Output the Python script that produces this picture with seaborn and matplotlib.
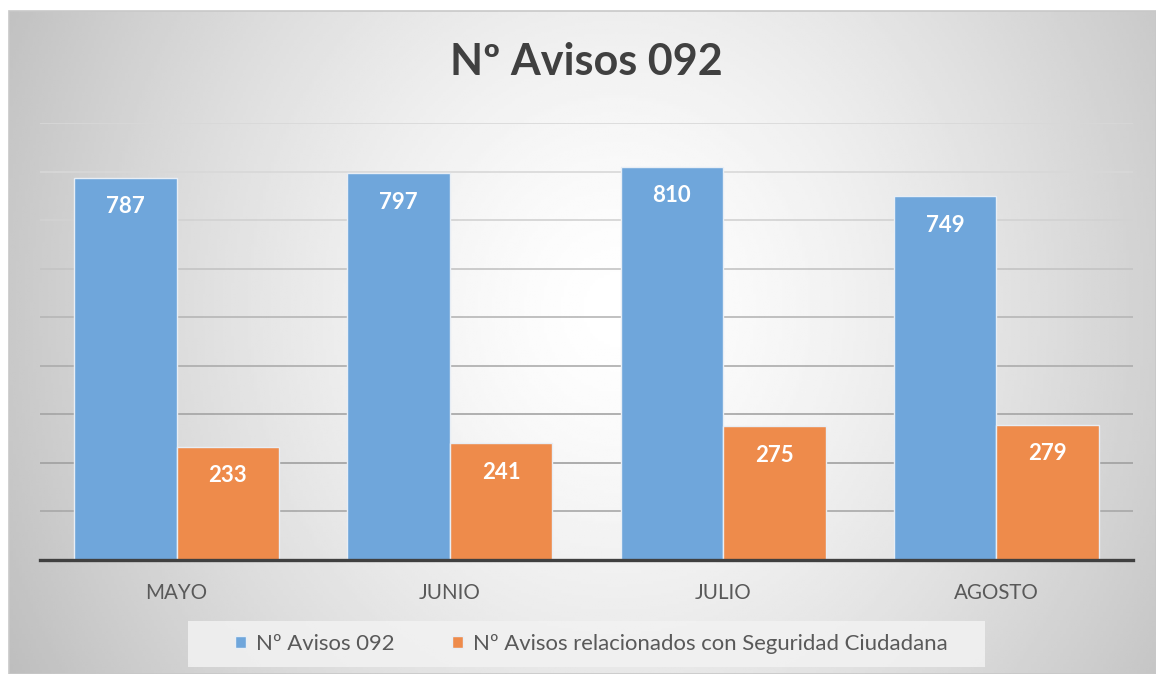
import numpy as np
import pandas as pd
import seaborn as sns
import matplotlib.pyplot as plt
from matplotlib.patches import Rectangle

# Values
months = ['MAYO', 'JUNIO', 'JULIO', 'AGOSTO']
avisos_092 = [787, 797, 810, 749]
avisos_seguridad = [233, 241, 275, 279]
series_names = ['Nº Avisos 092', 'Nº Avisos relacionados con Seguridad Ciudadana']
palette = {series_names[0]: '#6fa6db', series_names[1]: '#ee8b4b'}

df = pd.DataFrame({'Mes': months * 2,
                   'Avisos': avisos_092 + avisos_seguridad,
                   'Serie': [series_names[0]] * len(months) + [series_names[1]] * len(months)})

sns.set_style('white')
plt.rcParams['font.family'] = ['Lato', 'DejaVu Sans']

W, H = 1156, 674
fig = plt.figure(figsize=(W / 100, H / 100), dpi=100)
fig.patch.set_facecolor('white')

#%% chart area with radial-ish grey gradient
bg = fig.add_axes([9 / W, 0, 1 - 9 / W, 1 - 11 / H])
gx, gy = np.meshgrid(np.linspace(0, 1, 400), np.linspace(0, 1, 240))
dx = (gx - 0.53) / 0.5
dy = (gy - 0.45) / 0.55
shade = 1 - 0.24 * (0.75 * dx ** 2 + 0.25 * dy ** 2) ** 0.7
bg.imshow(shade, cmap='gray', vmin=0, vmax=1, aspect='auto', extent=(0, 1, 1, 0))
bg.set_axis_off()
fig.patches.append(Rectangle((9 / W, 0), 1 - 9 / W, 1 - 11 / H, transform=fig.transFigure,
                             fill=False, edgecolor='#c8c8c8', linewidth=1.2))

#%% bars
ax = fig.add_axes([40 / W, 1 - 560 / H, (1133 - 40) / W, (560 - 123) / H])
ax.set_facecolor('none')
sns.barplot(data=df, x='Mes', y='Avisos', hue='Serie', hue_order=series_names,
            palette=palette, width=0.75, saturation=1, edgecolor='#e8eef5', linewidth=1,
            legend=False, ax=ax, zorder=3)
ax.set_ylim(0, 900)
ax.set_xlim(-0.5, len(months) - 0.5)
ax.set_yticks(range(0, 901, 100))
ax.set_yticklabels([])
ax.set_xlabel('')
ax.set_ylabel('')
ax.tick_params(axis='both', length=0)
ax.tick_params(axis='x', pad=16.5, labelsize=14.8, labelcolor='#595959')
for side in ['top', 'right', 'left']:
    ax.spines[side].set_visible(False)
ax.spines['bottom'].set_color('#404040')
ax.spines['bottom'].set_linewidth(2.4)
ax.spines['bottom'].set_zorder(5)
ax.grid(axis='y', linewidth=1.2, zorder=0)
ax.set_axisbelow(True)
grid_cols = ['#bdbdbd', '#a8a8a8', '#a0a0a0', '#a4a4a4', '#acacac', '#b6b6b6', '#c4c4c4', '#d2d2d2', '#d8d8d8', '#d8d8d8']
for line, col in zip(ax.get_ygridlines(), grid_cols):
    line.set_color(col)

for container in ax.containers:
    ax.bar_label(container, label_type='edge', padding=-28.5, color='white',
                 fontsize=16, fontweight='bold')

#%% title and legend
fig.text(586 / W, 1 - 62 / H, 'Nº Avisos 092', ha='center', va='center',
         fontsize=31, fontweight='bold', color='#404040')

fig.patches.append(Rectangle((188 / W, 1 - 667 / H), (985 - 188) / W, 46 / H,
                             transform=fig.transFigure, facecolor='#f2f2f2',
                             edgecolor='none', alpha=0.85))
handles = [Rectangle((0, 0), 1, 1, facecolor=palette[name], edgecolor='#e8eef5') for name in series_names]
fig.legend(handles, series_names, loc='center', bbox_to_anchor=(591 / W, 1 - 644 / H),
           ncol=2, frameon=False, fontsize=15.9, labelcolor='#595959',
           handlelength=0.5, handleheight=0.5, handletextpad=0.45, columnspacing=2.6)

plt.savefig('out.png', dpi=100)
